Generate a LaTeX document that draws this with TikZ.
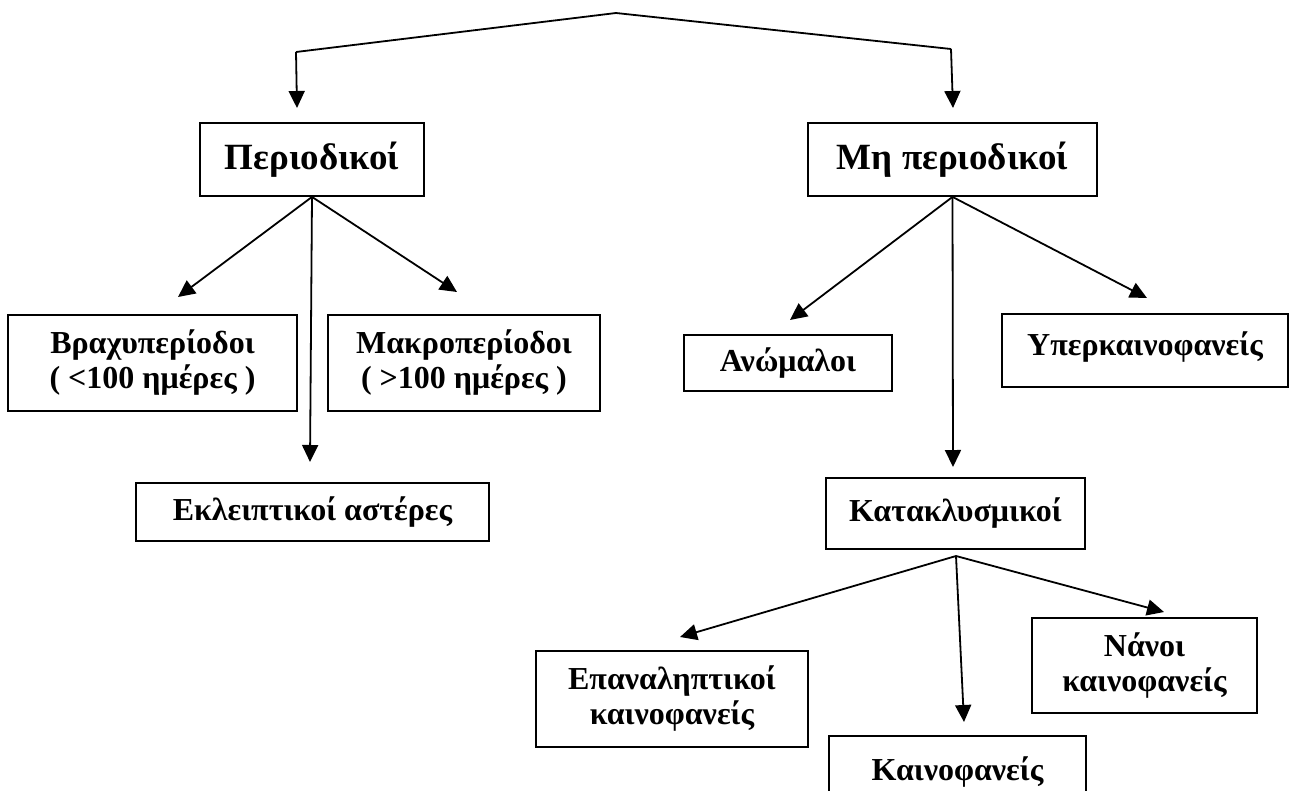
\documentclass[tikz,border=0pt]{standalone}
\usepackage{fontspec}
\setmainfont{Liberation Serif}
\usetikzlibrary{arrows.meta}
\begin{document}
\begin{tikzpicture}[x=1pt,y=-1pt,
  box/.style={draw, line width=1.8pt, inner sep=0pt, align=center,
    font=\bfseries\fontsize{32}{35}\selectfont},
  bigbox/.style={box, font=\bfseries\fontsize{37}{42}\selectfont},
  arr/.style={line width=1.8pt, -{Triangle[length=17pt,width=16pt]}},
  lin/.style={line width=1.8pt}]
\useasboundingbox (0,0) rectangle (1290,790);
\clip (0,0) rectangle (1290,790);
% boxes
\node[bigbox, minimum width=224pt, minimum height=73pt] (peri) at (312,159.5) {Περιοδικοί};
\node[bigbox, minimum width=289pt, minimum height=73pt] (mh) at (952.5,159.5) {Μη περιοδικοί};
\node[box, minimum width=289pt, minimum height=96pt] (brachy) at (152.5,363) {Βραχυπερίοδοι\\( <100 ημέρες )};
\node[box, minimum width=272pt, minimum height=96pt] (makro) at (464,363) {Μακροπερίοδοι\\( >100 ημέρες )};
\node[box, minimum width=353pt, minimum height=58pt] (ekl) at (312.5,512) {Εκλειπτικοί αστέρες};
\node[box, minimum width=208pt, minimum height=56pt] (anom) at (788,363) {Ανώμαλοι};
\node[box, minimum width=286pt, minimum height=73pt] (yper) at (1145,350.5) {Υπερκαινοφανείς\rule[-14pt]{0pt}{1pt}};
\node[box, minimum width=259pt, minimum height=71pt] (katak) at (955.5,513.5) {Κατακλυσμικοί};
\node[box, minimum width=272pt, minimum height=96pt] (epan) at (672,699) {Επαναληπτικοί\\καινοφανείς};
\node[box, minimum width=225pt, minimum height=95pt] (nanoi) at (1144.5,665.5) {Νάνοι\\καινοφανείς};
\node[box, minimum width=257pt, minimum height=72pt] (kaino) at (957.5,772) {Καινοφανείς};
% top connector
\coordinate (apex) at (616,13);
\coordinate (cl) at (296,52);
\coordinate (cr) at (951,49);
\coordinate (tl) at (297,108);
\coordinate (tr) at (953,108);
\draw[lin] (cl) -- (apex) -- (cr);
\draw[arr] (cl) -- (tl);
\draw[arr] (cr) -- (tr);
% Periodikoi arrows
\coordinate (t1) at (178,297);
\coordinate (t2) at (457,292);
\coordinate (t3) at (310,462);
\draw[arr] (peri.south) -- (t1);
\draw[arr] (peri.south) -- (t2);
\draw[arr] (peri.south) -- (t3);
% Mh periodikoi arrows
\coordinate (t4) at (790,320);
\coordinate (t5) at (1147,298);
\coordinate (t6) at (953,467);
\draw[arr] (mh.south) -- (t4);
\draw[arr] (mh.south) -- (t5);
\draw[arr] (mh.south) -- (t6);
% Kataklysmikoi arrows
\coordinate (ko) at (956,556);
\coordinate (t7) at (680,637);
\coordinate (t8) at (964,722);
\coordinate (t9) at (1164,612);
\draw[arr] (ko) -- (t7);
\draw[arr] (ko) -- (t8);
\draw[arr] (ko) -- (t9);
\end{tikzpicture}
\end{document}
